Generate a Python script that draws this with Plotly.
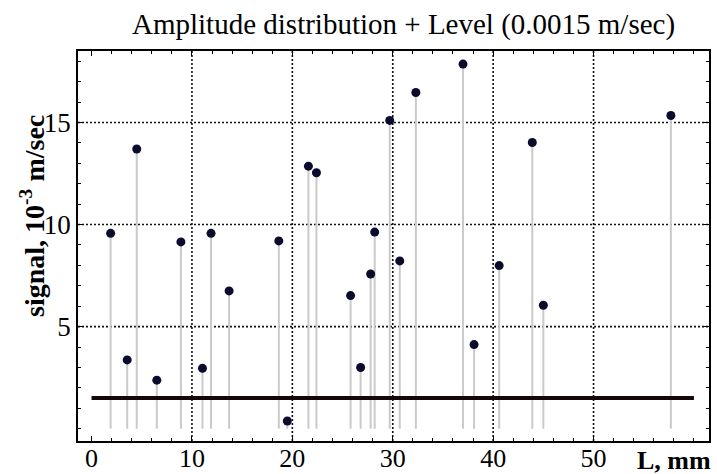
import plotly.graph_objects as go

# ---- data ----
L_mm = [1.9, 3.55, 4.5, 6.5, 8.9, 11.05, 11.9, 13.7, 18.65, 19.5, 21.6, 22.4,
        25.8, 26.8, 27.8, 28.2, 29.7, 30.7, 32.3, 37.0, 38.1, 40.6, 43.9, 45.0, 57.7]
signal = [9.57, 3.37, 13.7, 2.38, 9.15, 2.96, 9.57, 6.75, 9.2, 0.38, 12.86, 12.54,
          6.52, 3.0, 7.58, 9.63, 15.1, 8.22, 16.47, 17.86, 4.12, 7.99, 14.02, 6.05, 15.34]
level_x = [0, 60]
level_y = [1.5, 1.5]
x_ticks = [0, 10, 20, 30, 40, 50]
y_ticks = [5, 10, 15]
x_grid = [10, 20, 30, 40, 50]
y_grid = [5, 10, 15]

X_RANGE = [-1.35, 61.5]
Y_RANGE = [-0.6, 18.5]
SERIF = "Liberation Serif"

fig = go.Figure()

# stems (from 0 to each value) via error bars
fig.add_trace(go.Scatter(
    x=L_mm, y=signal, mode="markers",
    marker=dict(size=9, color="#0b0b2e"),
    error_y=dict(type="data", symmetric=False, array=[0] * len(signal),
                 arrayminus=signal, color="#cacaca", thickness=2, width=0),
    showlegend=False, hoverinfo="x+y"))

# level line
fig.add_trace(go.Scatter(
    x=level_x, y=level_y, mode="lines",
    line=dict(color="#140808", width=4), showlegend=False))

# dotted grid lines
for gx in x_grid:
    fig.add_shape(type="line", xref="x", yref="y", x0=gx, x1=gx,
                  y0=Y_RANGE[0], y1=Y_RANGE[1], layer="below",
                  line=dict(color="#111111", width=1.6, dash="2px,2px"))
for gy in y_grid:
    fig.add_shape(type="line", xref="x", yref="y", y0=gy, y1=gy,
                  x0=X_RANGE[0], x1=X_RANGE[1], layer="below",
                  line=dict(color="#111111", width=1.6, dash="2px,2px"))

axis_common = dict(showline=True, linecolor="black", linewidth=1.5,
                   mirror="allticks", ticks="inside", tickcolor="black",
                   tickwidth=1.2, ticklen=5, showgrid=False, zeroline=False,
                   automargin=False)

fig.update_xaxes(range=X_RANGE, tickvals=x_ticks, ticklabelstandoff=-7,
                 tickfont=dict(family=SERIF, size=26, color="black"),
                 minor=dict(dtick=2, tick0=0, ticks="inside", ticklen=3,
                            tickcolor="black", tickwidth=1.2, showgrid=False),
                 **axis_common)
fig.update_yaxes(range=Y_RANGE, tickvals=y_ticks,
                 tickfont=dict(family=SERIF, size=27, color="black"),
                 minor=dict(dtick=1, tick0=0, ticks="inside", ticklen=3,
                            tickcolor="black", tickwidth=1.2, showgrid=False),
                 **axis_common)

fig.add_annotation(text="Amplitude distribution + Level (0.0015 m/sec)",
                   xref="paper", yref="paper", x=0.516, y=1.0,
                   xanchor="center", yanchor="bottom", yshift=8, showarrow=False,
                   font=dict(family=SERIF, size=29, color="black"))
fig.add_annotation(text="<b>signal, 10<sup>-3</sup> m/sec</b>",
                   xref="paper", yref="paper", x=-0.0713, y=0.577,
                   xanchor="center", yanchor="middle", textangle=-90, showarrow=False,
                   font=dict(family=SERIF, size=28, color="black"))
fig.add_annotation(text="<b>L, mm</b>",
                   xref="paper", yref="paper", x=1.006, y=-0.051,
                   xanchor="right", yanchor="middle", showarrow=False,
                   font=dict(family=SERIF, size=26, color="black"))

fig.update_layout(width=717, height=474,
                  margin=dict(l=78, r=8, t=51, b=33, autoexpand=False),
                  paper_bgcolor="white", plot_bgcolor="white")

fig.write_html("out.html")
